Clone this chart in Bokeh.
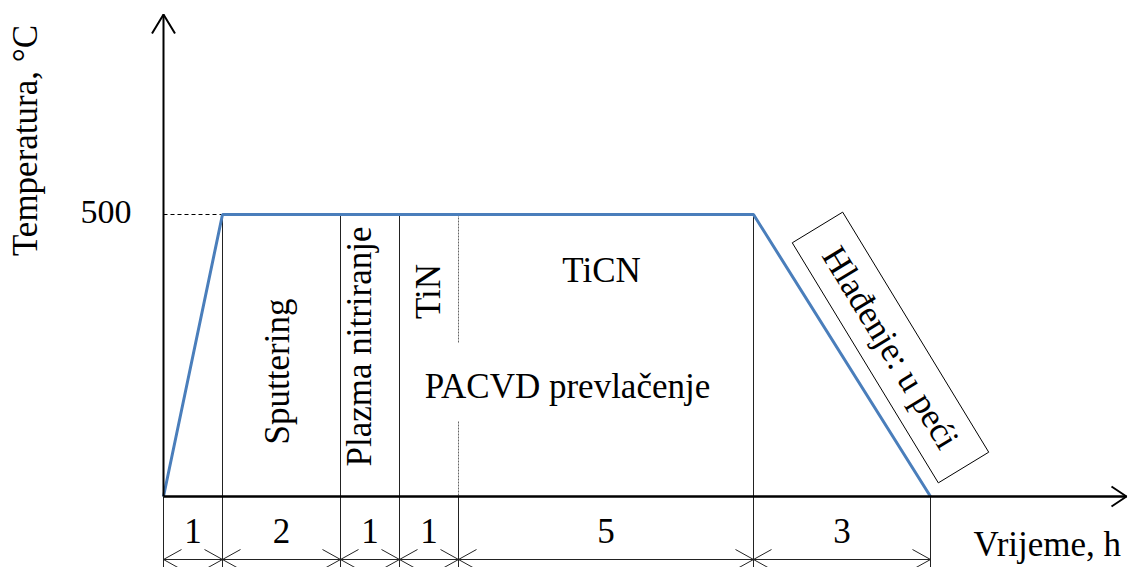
import math
from bokeh.plotting import figure
from bokeh.models import Range1d
from bokeh.core.properties import value
from bokeh.embed import file_html
from bokeh.resources import INLINE

# ---------------- data ----------------
time_h = [0, 1, 10, 13]
temp_c = [0, 500, 500, 0]
stage_hours = [1, 2, 1, 1, 5, 3]
stage_hour_labels = ["1", "2", "1", "1", "5", "3"]
hold_temp = 500
ytick_labels = ["500"]
tin_end_h = 5
x_title = "Vrijeme, h"
y_title = "Temperatura, °C"
stage_names_vertical = ["Sputtering", "Plazma nitriranje", "TiN"]
stage_names_horizontal = ["TiCN", "PACVD prevlačenje"]
cooling_name = "Hlađenje: u peći"

# ---------------- layout helpers (page pixel -> data) ----------------
W, H = 1128, 567
PX_H = 59.0      # pixels per hour
PX_T = 0.564     # pixels per degree
OX, OY = 163.0, 496.0   # page pixel of origin
SH = 12          # text baseline correction in px

def hx(px):
    return (px - OX) / PX_H

def ty(py):
    return (OY - py) / PX_T

def dh(px):
    return px / PX_H

def dt(px):
    return px / PX_T

FONT = value("Liberation Serif")
FS = "35px"

p = figure(width=W, height=H,
           x_range=Range1d(hx(0), hx(W)),
           y_range=Range1d(ty(H), ty(0)),
           x_axis_type=None, y_axis_type=None,
           min_border=0, toolbar_location=None, output_backend="svg")
p.grid.visible = False
p.outline_line_color = None
p.background_fill_color = "white"

bounds = [0]
for d in stage_hours:
    bounds.append(bounds[-1] + d)

y_bottom = ty(600)

# extension lines (thin)
ext_xs, ext_ys = [], []
for b in bounds:
    if b == 0 or b == bounds[-1] or b == tin_end_h:
        ext_xs.append([b, b]); ext_ys.append([0, y_bottom])
    else:
        ext_xs.append([b, b]); ext_ys.append([hold_temp, y_bottom])
p.multi_line(ext_xs, ext_ys, line_color="#222222", line_width=1)

# dashed TiN/TiCN separator
p.multi_line([[tin_end_h, tin_end_h], [tin_end_h, tin_end_h]],
             [[hold_temp, ty(342)], [ty(421), 0]],
             line_color="#666666", line_width=1, line_dash="2 1")

# dashed reference at 500
p.line([0, time_h[1]], [hold_temp, hold_temp], line_color="black", line_width=1, line_dash="4 3")

# temperature curve
p.line(time_h, temp_c, line_color="#4a7ebb", line_width=3)

# axes with open arrow heads
y_tip = ty(14)
p.line([0, 0], [0, y_tip], line_color="black", line_width=2)
p.multi_line([[dh(-11.5), 0, dh(11.5)]], [[y_tip - dt(19), y_tip, y_tip - dt(19)]],
             line_color="black", line_width=2)
x_tip = hx(1126)
p.line([0, x_tip], [0, 0], line_color="black", line_width=2.5)
p.multi_line([[x_tip - dh(15), x_tip, x_tip - dh(15)]], [[dt(10), 0, dt(-10)]],
             line_color="black", line_width=2)

# dimension line with arrows
y_dim = ty(559)
p.line([0, bounds[-1]], [y_dim, y_dim], line_color="#222222", line_width=1)
ar_xs, ar_ys = [], []
for a, b in zip(bounds[:-1], bounds[1:]):
    ar_xs.append([a + dh(18), a, a + dh(18)]); ar_ys.append([y_dim + dt(10), y_dim, y_dim - dt(10)])
    ar_xs.append([b - dh(18), b, b - dh(18)]); ar_ys.append([y_dim + dt(10), y_dim, y_dim - dt(10)])
p.multi_line(ar_xs, ar_ys, line_color="#222222", line_width=1)

# duration labels
centers = [(a + b) / 2 for a, b in zip(bounds[:-1], bounds[1:])]
p.text(x=centers, y=[ty(542 - SH)] * len(centers), text=stage_hour_labels,
       text_font=FONT, text_font_size=FS, text_align="center",
       text_baseline="alphabetic", text_color="black")

# axis titles and tick label
p.text(x=[hx(973)], y=[ty(556 - SH)], text=[x_title], text_font=FONT, text_font_size=FS,
       text_align="left", text_baseline="alphabetic", text_color="black")
p.text(x=[hx(37 - SH)], y=[ty(140)], text=[y_title], angle=math.pi / 2, text_font=FONT,
       text_font_size=FS, text_align="center", text_baseline="alphabetic", text_color="black")
p.text(x=[hx(131)], y=[ty(223 - SH)], text=ytick_labels, text_font=FONT, text_font_size="34px",
       text_align="right", text_baseline="alphabetic", text_color="black")

# vertical stage names
p.text(x=[hx(289 - SH), hx(371 - SH), hx(440 - SH)], y=[ty(371), ty(346), ty(291)],
       text=stage_names_vertical, angle=math.pi / 2, text_font=FONT, text_font_size=FS,
       text_align="center", text_baseline="alphabetic", text_color="black")

# horizontal stage names
p.text(x=[hx(601), hx(567)], y=[ty(282 - SH), ty(398 - SH)], text=stage_names_horizontal,
       text_font=FONT, text_font_size=FS, text_align="center",
       text_baseline="alphabetic", text_color="black")

# cooling box
ang = -math.atan2(240, 146)
cx, cy = hx(890), ty(347)
p.rect(x=[cx], y=[cy], width=281, height=59, width_units="screen", height_units="screen",
       angle=ang, fill_color=None, line_color="black", line_width=1)
p.text(x=[cx], y=[cy], text=[cooling_name], angle=ang, text_font=FONT, text_font_size=FS,
       text_align="center", text_baseline="middle", text_color="black")

open("out.html", "w").write(file_html(p, INLINE))
